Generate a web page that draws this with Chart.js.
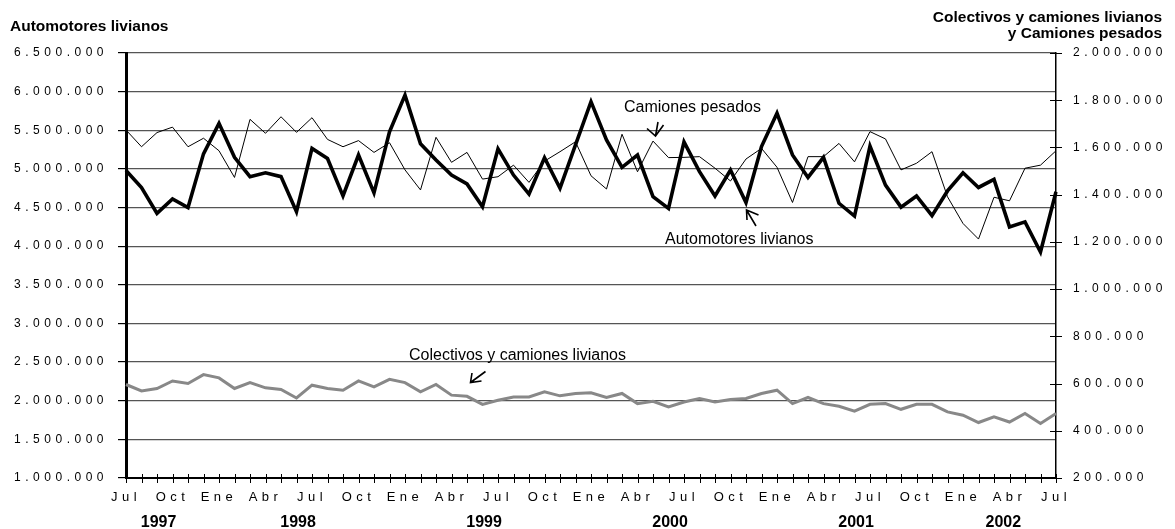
<!DOCTYPE html>
<html>
<head>
<meta charset="utf-8">
<script src="https://cdn.jsdelivr.net/npm/chart.js@4.4.1/dist/chart.umd.min.js"></script>
<style>
  html, body { margin: 0; padding: 0; background: #fff; }
  canvas { display: block; }
</style>
</head>
<body>
<canvas id="chart" width="1175" height="529"></canvas>
<script>
const monthNames = ['Ene', 'Feb', 'Mar', 'Abr', 'May', 'Jun', 'Jul', 'Ago', 'Sep', 'Oct', 'Nov', 'Dic'];
const firstYear = 1997;
const firstMonth = 6; // Jul 1997
const years = ['1997', '1998', '1999', '2000', '2001', '2002'];

// Automotores livianos (eje izquierdo)
const automotoresLivianos = [
  4980000, 4760000, 4425000, 4610000, 4500000, 5195000, 5590000, 5150000, 4900000, 4950000,
  4900000, 4445000, 5265000, 5135000, 4650000, 5180000, 4690000, 5480000, 5955000, 5325000,
  5115000, 4920000, 4805000, 4510000, 5260000, 4920000, 4675000, 5145000, 4750000, 5310000,
  5870000, 5375000, 5020000, 5180000, 4640000, 4490000, 5350000, 4965000, 4650000, 4985000,
  4565000, 5290000, 5720000, 5180000, 4890000, 5150000, 4555000, 4390000, 5295000, 4790000,
  4505000, 4650000, 4395000, 4715000, 4950000, 4760000, 4865000, 4250000, 4315000, 3925000,
  4705000
];
// Camiones pesados (eje derecho)
const camionesPesados = [
  1674000, 1603000, 1663000, 1686000, 1603000, 1639000, 1586000, 1473000, 1719000, 1660000,
  1730000, 1664000, 1726000, 1634000, 1603000, 1629000, 1579000, 1620000, 1505000, 1420000,
  1643000, 1537000, 1579000, 1466000, 1476000, 1525000, 1452000, 1542000, 1582000, 1624000,
  1480000, 1424000, 1656000, 1497000, 1627000, 1557000, 1558000, 1561000, 1512000, 1458000,
  1551000, 1596000, 1516000, 1367000, 1561000, 1561000, 1617000, 1539000, 1667000, 1636000,
  1505000, 1533000, 1582000, 1391000, 1278000, 1212000, 1389000, 1374000, 1512000, 1525000,
  1586000
];
// Colectivos y camiones livianos (eje derecho)
const colectivosCamionesLivianos = [
  596000, 569000, 579000, 611000, 600000, 638000, 624000, 579000, 604000, 582000,
  575000, 539000, 593000, 579000, 572000, 611000, 586000, 618000, 604000, 565000,
  596000, 551000, 546000, 512000, 529000, 543000, 543000, 565000, 548000, 558000,
  561000, 541000, 558000, 515000, 525000, 501000, 522000, 537000, 522000, 532000,
  537000, 558000, 572000, 515000, 541000, 515000, 504000, 483000, 512000, 515000,
  491000, 512000, 512000, 480000, 466000, 435000, 459000, 437000, 473000, 431000,
  473000
];

const categories = [];
const categoryYear = [];
for (let i = 0; i < automotoresLivianos.length; i++) {
  const m = firstMonth + i;
  categories.push(monthNames[m % 12]);
  categoryYear.push(String(firstYear + Math.floor(m / 12)));
}

const fontFamily = '"Liberation Sans", Arial, sans-serif';
Chart.defaults.font.family = fontFamily;
Chart.defaults.color = '#000';

function fmt(v) {
  return String(v).replace(/\B(?=(\d{3})+(?!\d))/g, '.');
}

const decor = {
  id: 'decor',
  beforeDraw(chart) {
    // tick labels are spaced out in the original
    chart.ctx.letterSpacing = '4.5px';
  },
  afterDraw(chart) {
    const {ctx, chartArea: a, scales: {x, y2}} = chart;
    ctx.save();
    ctx.letterSpacing = '0px';
    ctx.strokeStyle = '#000';
    ctx.lineWidth = 1;

    // small ticks crossing the bottom and right axes
    ctx.beginPath();
    categories.forEach((c, i) => {
      const px = Math.round(x.getPixelForValue(i)) + 0.5;
      ctx.moveTo(px, a.bottom - 4);
      ctx.lineTo(px, a.bottom + 5);
    });
    y2.ticks.forEach(t => {
      const py = Math.round(y2.getPixelForValue(t.value)) + 0.5;
      ctx.moveTo(a.right - 6, py);
      ctx.lineTo(a.right + 6, py);
    });
    ctx.stroke();

    // axis titles
    ctx.fillStyle = '#000';
    ctx.font = 'bold 15.5px ' + fontFamily;
    ctx.textAlign = 'left';
    ctx.textBaseline = 'alphabetic';
    ctx.fillText('Automotores livianos', 10, 31);
    ctx.textAlign = 'right';
    ctx.fillText('Colectivos y camiones livianos', chart.width - 13, 21.5);
    ctx.fillText('y Camiones pesados', chart.width - 13, 37.5);

    // years under the month labels
    ctx.font = 'bold 16px ' + fontFamily;
    ctx.textAlign = 'center';
    years.forEach(yr => {
      const first = categoryYear.indexOf(yr);
      const last = categoryYear.lastIndexOf(yr);
      ctx.fillText(yr, x.getPixelForValue((first + last) / 2 - 0.4), chart.height - 2);
    });

    // series labels with arrows (positions in the original picture's coordinates)
    const sx = a.width / 930, sy = a.height / 425;
    const P = (px, py) => [a.left + (px - 126) * sx, a.top + (py - 53) * sy];
    ctx.font = '16px ' + fontFamily;
    ctx.textAlign = 'left';
    const label = (txt, px, py) => { const [u, v] = P(px, py); ctx.fillText(txt, u, v); };
    label('Camiones pesados', 624, 112);
    label('Automotores livianos', 665, 244);
    label('Colectivos y camiones livianos', 409, 360);

    const arrow = (tail, tip, b1, b2) => {
      ctx.beginPath();
      ctx.moveTo(...P(...tail)); ctx.lineTo(...P(...tip));
      ctx.moveTo(...P(...b1)); ctx.lineTo(...P(...tip)); ctx.lineTo(...P(...b2));
      ctx.stroke();
    };
    ctx.lineWidth = 1.6;
    arrow([658, 122], [655.5, 136], [647, 128.5], [663.5, 125]);
    arrow([756, 226], [746.5, 210], [747, 220], [758.5, 215]);
    arrow([485.5, 371.5], [470.5, 382.5], [472, 373], [481.5, 381]);

    ctx.restore();
  }
};

new Chart(document.getElementById('chart'), {
  type: 'line',
  data: {
    labels: categories,
    datasets: [{
      label: 'Automotores livianos',
      data: automotoresLivianos,
      yAxisID: 'y',
      borderColor: '#000',
      borderWidth: 3.6
    }, {
      label: 'Camiones pesados',
      data: camionesPesados,
      yAxisID: 'y2',
      borderColor: '#000',
      borderWidth: 1
    }, {
      label: 'Colectivos y camiones livianos',
      data: colectivosCamionesLivianos,
      yAxisID: 'y2',
      borderColor: '#888',
      borderWidth: 3
    }]
  },
  options: {
    responsive: false,
    animation: false,
    layout: { padding: { top: 53, left: 0, right: 0, bottom: 0 } },
    elements: { point: { radius: 0 }, line: { tension: 0 } },
    plugins: { legend: { display: false }, tooltip: { enabled: false } },
    scales: {
      x: {
        grid: { display: false },
        border: { display: true, color: '#000', width: 2 },
        ticks: {
          autoSkip: false, maxRotation: 0, minRotation: 0, padding: 4,
          font: { size: 13 },
          callback: (v, i) => (i % 3 === 0 ? categories[i] : '')
        },
        afterFit: s => { s.height = 51; }
      },
      y: {
        position: 'left',
        min: 1000000, max: 6500000,
        ticks: { stepSize: 500000, padding: 10, font: { size: 12 }, callback: v => fmt(v) },
        grid: { color: '#555', lineWidth: 1.2, tickLength: 8, tickColor: '#000' },
        border: { color: '#000', width: 3 },
        afterFit: s => { s.width = 126; }
      },
      y2: {
        position: 'right',
        min: 200000, max: 2000000,
        ticks: { stepSize: 200000, padding: 9, font: { size: 12 }, callback: v => fmt(v) },
        grid: { display: false },
        border: { color: '#000', width: 1.5 },
        afterFit: s => { s.width = 119; }
      }
    }
  },
  plugins: [decor]
});
</script>
</body>
</html>
